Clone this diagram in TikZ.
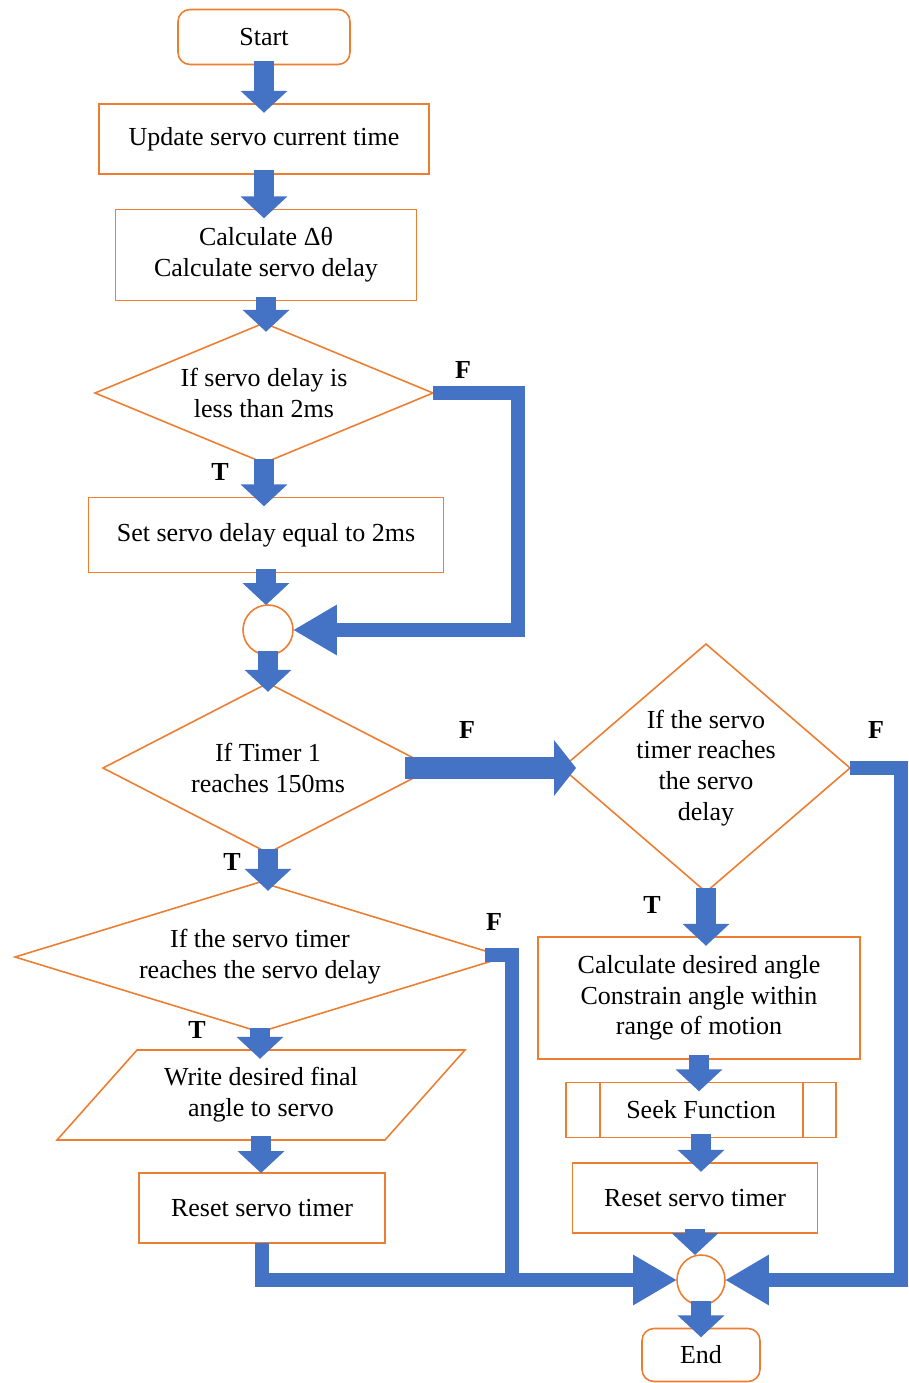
\documentclass[tikz,border=0pt]{standalone}
\usepackage{fontspec}
\setmainfont{Liberation Serif}
\usetikzlibrary{shapes.geometric,arrows.meta}
\definecolor{boxline}{HTML}{ED7D31}
\definecolor{flowblue}{HTML}{4472C4}

\begin{document}
\begin{tikzpicture}[x=0.02cm,y=-0.02cm,
     font=\fontsize{14.8}{17.5}\selectfont,
     box/.style={draw=boxline,line width=0.9pt,outer sep=0pt,inner sep=0pt,align=center},
     terminal/.style={box,rounded corners=0.24cm},
     decision/.style={box,diamond},
     junction/.style={box,ellipse},
     flowdown/.style={flowblue,line width=11.3pt,-{Triangle[width=26pt,length=12.5pt]},shorten >=-5pt,shorten <=-2pt},
     sidearrow/.style={flowblue,line width=12.5pt,-{Triangle[width=31pt,length=12.5pt]},shorten <=-16pt,shorten >=-8pt},
     loopline/.style={flowblue,line width=8.5pt},
     looparrow/.style={loopline,-{Triangle[width=27pt,length=25pt]}},
     tf/.style={font=\fontsize{14.8}{17.5}\selectfont\bfseries}]
          \useasboundingbox (0,0) rectangle (909,1383);

          % left column
          \node[terminal,minimum width=3.44cm,minimum height=1.1cm] (start) at (264,37) {Start};
          \node[box,minimum width=6.6cm,minimum height=1.4cm] (update) at (264,139) {Update servo current time};
          \node[box,minimum width=6.02cm,minimum height=1.82cm] (calc) at (266,255) {Calculate Δθ\\Calculate servo delay};
          \node[decision,shape aspect=2.41,minimum width=6.76cm,minimum height=2.8cm] (less) at (264,393) {If servo delay is\\less than 2ms};
          \node[box,minimum width=7.1cm,minimum height=1.5cm] (setdelay) at (266,535) {Set servo delay equal to 2ms};
          \node[junction,minimum width=1cm,minimum height=1cm] (join1) at (268,630) {};
          \node[decision,shape aspect=1.94,minimum width=6.6cm,minimum height=3.4cm] (timer) at (268,768) {If Timer 1\\reaches 150ms};
          \node[decision,shape aspect=3.27,minimum width=9.8cm,minimum height=3.0cm] (writedue) at (260,957) {If the servo timer\\reaches the servo delay};
          \node[box,draw=none,minimum width=6.56cm,minimum height=1.8cm] (write) at (261,1095) {Write desired final\\angle to servo};
          \draw[boxline,line width=0.9pt] ([xshift=0.8cm]write.north west) -- ([xshift=0.8cm]write.north east)
               -- ([xshift=-0.8cm]write.south east) -- ([xshift=-0.8cm]write.south west) -- cycle;
          \node[box,minimum width=4.92cm,minimum height=1.4cm] (resetL) at (262,1208) {Reset servo timer};

          % right column
          \node[decision,shape aspect=1.16,minimum width=5.76cm,minimum height=4.96cm] (seekdue) at (706,768) {If the servo\\timer reaches\\the servo\\delay};
          \node[box,minimum width=6.44cm,minimum height=2.44cm] (angle) at (699,998) {Calculate desired angle\\Constrain angle within\\range of motion};
          \node[box,minimum width=5.4cm,minimum height=1.1cm] (seek) at (701,1110) {Seek Function};
          \draw[boxline,line width=0.9pt] ([xshift=0.68cm]seek.north west) -- ([xshift=0.68cm]seek.south west)
               ([xshift=-0.66cm]seek.north east) -- ([xshift=-0.66cm]seek.south east);
          \node[box,minimum width=4.9cm,minimum height=1.4cm] (resetR) at (695,1198) {Reset servo timer};
          \node[junction,minimum width=0.96cm,minimum height=1cm] (join2) at (701,1280) {};
          \node[terminal,minimum width=2.36cm,minimum height=1.06cm] (finish) at (701,1355) {End};

          \coordinate (lessturn) at (518,393);
          \coordinate (seekturn) at (901,768);
          \coordinate (writeturn) at (512,955);

          \draw[flowdown] (start.south) -- (start.south |- update.north);
          \draw[flowdown] (update.south) -- (update.south |- calc.north);
          \draw[flowdown] (calc.south) -- (calc.south |- less.north);
          \draw[flowdown] (less.south) -- (less.south |- setdelay.north);
          \draw[flowdown,shorten >=0pt] (setdelay.south) -- (setdelay.south |- join1.north);
          \draw[flowdown] (join1.south) -- (join1.south |- timer.north);
          \draw[flowdown] (timer.south) -- (timer.south |- writedue.north);
          \draw[flowdown] (writedue.south) -- (writedue.south |- write.north);
          \draw[flowdown,shorten >=0pt] (write.south) -- (write.south |- resetL.north);
          \draw[sidearrow] (timer.east) -- (seekdue.west);
          \draw[flowdown] (seekdue.south) -- (seekdue.south |- angle.north);
          \draw[flowdown] (angle.south) -- (angle.south |- seek.north);
          \draw[flowdown] (seek.south) -- (seek.south |- resetR.north);
          \draw[flowdown,shorten >=0pt] (resetR.south) -- (resetR.south |- join2.north);
          \draw[flowdown] (join2.south) -- (join2.south |- finish.north);

          \draw[looparrow] (less.east) -- (lessturn) |- (join1.east);
          \draw[looparrow] (seekdue.east) -- (seekturn) |- (join2.east);
          \draw[loopline] ([xshift=-0.4cm]writedue.east |- writeturn) -- (writeturn) -- (writeturn |- join2);
          \draw[looparrow] (resetL.south) |- (join2.west);

          \node[tf] (fless) at (463,370) {F};
          \node[tf] (tless) at (220,472) {T};
          \node[tf] (ftimer) at (467,730) {F};
          \node[tf] (ttimer) at (232,862) {T};
          \node[tf] (fseek) at (876,730) {F};
          \node[tf] (tseek) at (652,905) {T};
          \node[tf] (fwrite) at (494,922) {F};
          \node[tf] (twrite) at (197,1030) {T};
\end{tikzpicture}
\end{document}
